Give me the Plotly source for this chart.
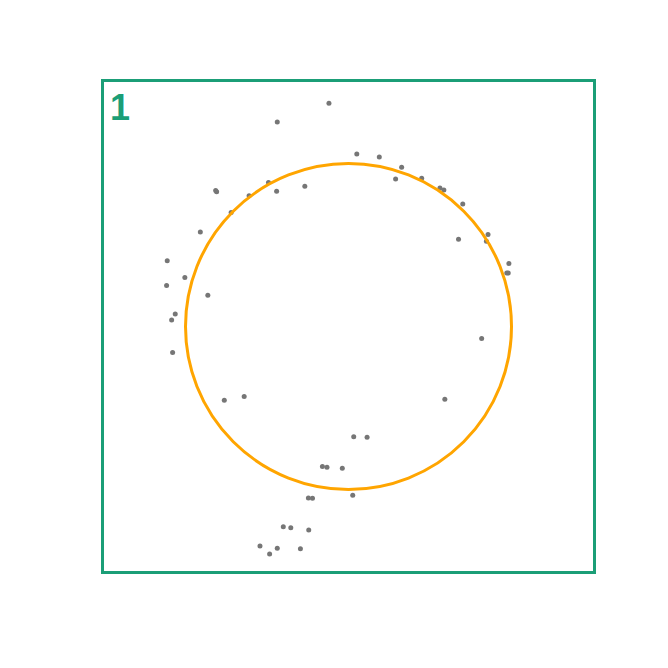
import plotly.graph_objects as go

# gray sample points (data units, circle of radius 1 at origin)
pts_x = [-0.120, -0.437, -0.491, -0.441, -0.268, -0.809, -0.815, -0.610, -0.720, -0.909,
         -1.112, -1.004, -1.116, -0.863, -1.063, -1.085, -1.079, -0.762, -0.640, 0.032,
         0.114, -0.160, -0.132, -0.038, 0.026, -0.246, -0.221, -0.400, -0.354, -0.244,
         -0.543, -0.437, -0.295, -0.484, 0.817, 0.591, 0.051, 0.189, 0.326, 0.289,
         0.449, 0.561, 0.585, 0.701, 0.856, 0.846, 0.675, 0.984, 0.980, 0.971]
pts_y = [1.369, 1.255, 0.883, 0.830, 0.861, 0.826, 0.835, 0.802, 0.700, 0.580,
         0.404, 0.300, 0.251, 0.192, 0.076, 0.040, -0.160, -0.453, -0.430, -0.676,
         -0.680, -0.859, -0.863, -0.869, -1.035, -1.052, -1.054, -1.229, -1.235, -1.249,
         -1.346, -1.361, -1.363, -1.395, -0.074, -0.446, 1.058, 1.040, 0.977, 0.905,
         0.910, 0.849, 0.838, 0.751, 0.564, 0.523, 0.535, 0.387, 0.328, 0.328]

circle_cx = 0.0
circle_cy = 0.0
circle_r = 1.0
panel_label = "1"
axis_range = [-1.5, 1.5]

green = '#1b9e77'

fig = go.Figure()
fig.add_trace(go.Scatter(
    x=pts_x, y=pts_y, mode='markers',
    marker=dict(color='#767676', size=5, line=dict(width=0)),
    showlegend=False, hoverinfo='skip'
))

fig.add_shape(
    type='circle', xref='x', yref='y',
    x0=circle_cx - circle_r, x1=circle_cx + circle_r,
    y0=circle_cy - circle_r, y1=circle_cy + circle_r,
    line=dict(color='#FFA500', width=3)
)

fig.add_annotation(
    text='<b>' + panel_label + '</b>', xref='paper', yref='paper',
    x=0.008, y=0.994, xanchor='left', yanchor='top', showarrow=False,
    font=dict(color=green, size=36, family='Liberation Sans, Arial')
)

fig.update_layout(
    width=668, height=668,
    margin=dict(l=96, r=83, t=74, b=105),
    plot_bgcolor='white',
    paper_bgcolor='white',
)
fig.update_xaxes(
    range=axis_range, showgrid=False, zeroline=False, showticklabels=False, ticks='',
    showline=True, mirror=True, linecolor=green, linewidth=2.5
)
fig.update_yaxes(
    range=axis_range, showgrid=False, zeroline=False, showticklabels=False, ticks='',
    showline=True, mirror=True, linecolor=green, linewidth=2.5
)

fig.write_html("out.html")
